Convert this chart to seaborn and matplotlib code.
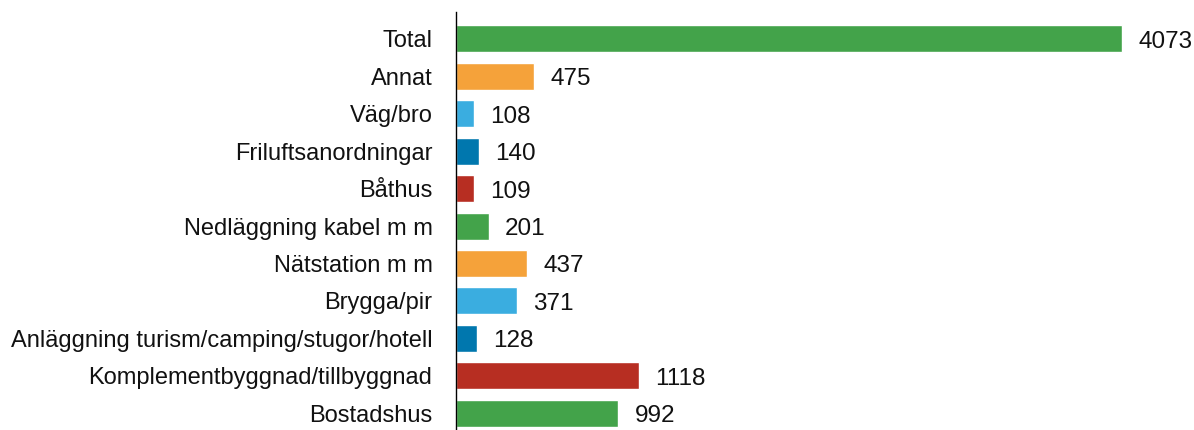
import pandas as pd
import seaborn as sns
import matplotlib.pyplot as plt

categories = ['Total', 'Annat', 'Väg/bro', 'Friluftsanordningar', 'Båthus',
              'Nedläggning kabel m m', 'Nätstation m m', 'Brygga/pir',
              'Anläggning turism/camping/stugor/hotell',
              'Komplementbyggnad/tillbyggnad', 'Bostadshus']
values = [4073, 475, 108, 140, 109, 201, 437, 371, 128, 1118, 992]
colors = ['#43a34a', '#f5a23a', '#3aade0', '#0077ae', '#b72e22',
          '#43a34a', '#f5a23a', '#3aade0', '#0077ae', '#b72e22', '#43a34a']

df = pd.DataFrame({'kategori': categories, 'antal': values})

sns.set_style('white')
plt.rcParams['font.family'] = ['Liberation Sans', 'DejaVu Sans']

fig = plt.figure(figsize=(11.94, 4.30), dpi=100)
ax = fig.add_axes([456 / 1194, 0, 1 - 456 / 1194, 1 - 12 / 430])

sns.barplot(data=df, x='antal', y='kategori', hue='kategori', palette=colors,
            order=categories, legend=False, width=0.72, saturation=1, ax=ax)

for i, v in enumerate(values):
    ax.text(v + 100, i + 0.08, str(v), va='center', ha='left', fontsize=17.5, color='#111111')

ax.set_xlim(0, 4514)
ax.set_ylim(10.45, -0.72)
ax.set_xlabel('')
ax.set_ylabel('')
ax.set_xticks([])
for s in ['top', 'right', 'bottom']:
    ax.spines[s].set_visible(False)
ax.spines['left'].set_color('black')
ax.spines['left'].set_linewidth(1)
ax.tick_params(axis='y', length=0, pad=17, labelsize=17, labelcolor='#111111')

fig.savefig('out.png', dpi=100)
